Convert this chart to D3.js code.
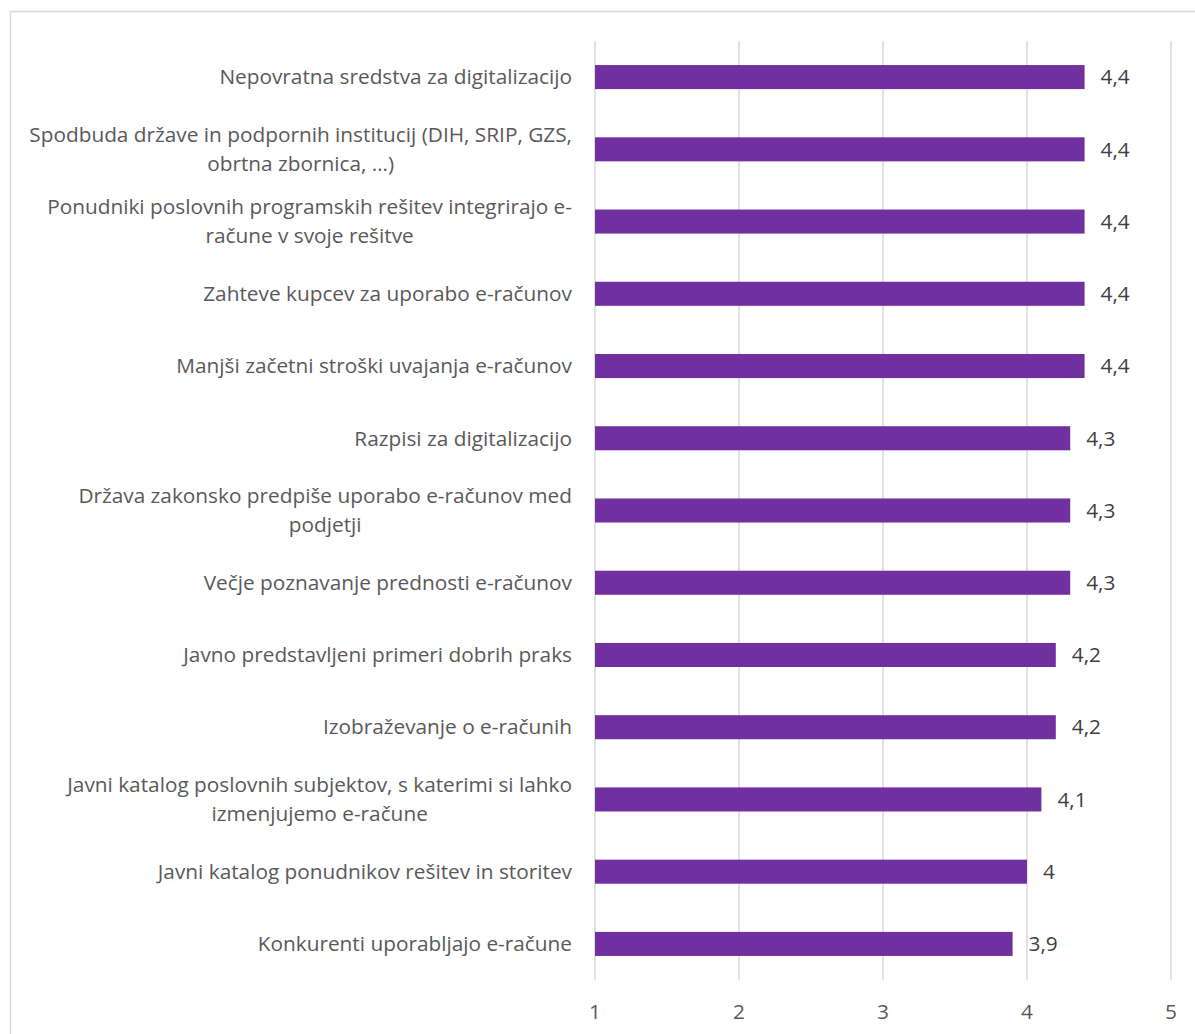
<!DOCTYPE html>
<html>
<head>
<meta charset="utf-8">
<script src="https://cdn.jsdelivr.net/npm/d3@7"></script>
<style>
body{margin:0;background:#fff;}
text{font-family:"Open Sans",Lato,sans-serif;}
</style>
</head>
<body>
<div id="container"></div>
<script>
// categories (top to bottom), "\n" marks the wrap point used in the original
let categories = [
	"Nepovratna sredstva za digitalizacijo",
	"Spodbuda države in podpornih institucij (DIH, SRIP, GZS,\nobrtna zbornica, …)",
	"Ponudniki poslovnih programskih rešitev integrirajo e-\nračune v svoje rešitve",
	"Zahteve kupcev za uporabo e-računov",
	"Manjši začetni stroški uvajanja e-računov",
	"Razpisi za digitalizacijo",
	"Država zakonsko predpiše uporabo e-računov med\npodjetji",
	"Večje poznavanje prednosti e-računov",
	"Javno predstavljeni primeri dobrih praks",
	"Izobraževanje o e-računih",
	"Javni katalog poslovnih subjektov, s katerimi si lahko\nizmenjujemo e-račune",
	"Javni katalog ponudnikov rešitev in storitev",
	"Konkurenti uporabljajo e-račune"
];
let values = [4.4, 4.4, 4.4, 4.4, 4.4, 4.3, 4.3, 4.3, 4.2, 4.2, 4.1, 4.0, 3.9];
let ticks = [1, 2, 3, 4, 5];

let W = 1195, H = 1034;
let margin = {top: 41, right: 24, bottom: 54, left: 595},
	width = 1171 - margin.left,
	height = 980 - margin.top;
let barColor = "#7030A0";
let textColor = "#595959";
let fontSize = 20.8;

let svg = d3.select("div#container").append("svg")
	.attr("width", W).attr("height", H);

// outer chart border
svg.append("rect")
	.attr("x", 10.5).attr("y", 11.5)
	.attr("width", W + 20).attr("height", H + 20)
	.attr("fill", "none").attr("stroke", "#d9d9d9").attr("stroke-width", 1.5);

let g = svg.append("g").attr("transform", "translate(" + margin.left + "," + margin.top + ")");

var xScale = d3.scaleLinear().domain([1, 5]).range([0, width]);
var yScale = d3.scaleBand().domain(categories).range([0, height]).paddingInner(0.667).paddingOuter(0.333);

// gridlines
g.selectAll("line.grid").data(ticks).enter().append("line")
	.attr("class", "grid")
	.attr("x1", d => xScale(d)).attr("x2", d => xScale(d))
	.attr("y1", 0).attr("y2", height)
	.attr("stroke", "#d9d9d9").attr("stroke-width", 1.5);

// bars
g.selectAll("rect.bar").data(values).enter().append("rect")
	.attr("class", "bar")
	.attr("x", xScale(1))
	.attr("y", (d, i) => yScale(categories[i]))
	.attr("width", d => xScale(d) - xScale(1))
	.attr("height", yScale.bandwidth())
	.attr("fill", barColor);

// value labels
g.selectAll("text.val").data(values).enter().append("text")
	.attr("class", "val")
	.attr("x", d => xScale(d) + 16)
	.attr("y", (d, i) => yScale(categories[i]) + yScale.bandwidth() / 2)
	.attr("dy", "0.35em")
	.attr("fill", "#404040")
	.attr("font-size", fontSize)
	.text(d => String(d).replace(".", ","));

// x axis tick labels
g.selectAll("text.tick").data(ticks).enter().append("text")
	.attr("class", "tick")
	.attr("x", d => xScale(d))
	.attr("y", height + 32)
	.attr("dy", "0.35em")
	.attr("text-anchor", "middle")
	.attr("fill", textColor)
	.attr("font-size", fontSize)
	.text(d => d);

// category labels: block right-aligned at x=572, lines centered within block
let lineH = 29;
categories.forEach(function (cat, i) {
	let lines = cat.split("\n");
	let cy = yScale(cat) + yScale.bandwidth() / 2;
	let lg = g.append("g");
	let texts = lines.map(function (ln, j) {
		return lg.append("text")
			.attr("y", cy + (j - (lines.length - 1) / 2) * lineH)
			.attr("dy", "0.35em")
			.attr("text-anchor", "middle")
			.attr("fill", textColor)
			.attr("font-size", fontSize)
			.text(ln);
	});
	let maxW = d3.max(texts, t => t.node().getComputedTextLength());
	texts.forEach(t => t.attr("x", -23 - maxW / 2));
});
</script>
</body>
</html>
